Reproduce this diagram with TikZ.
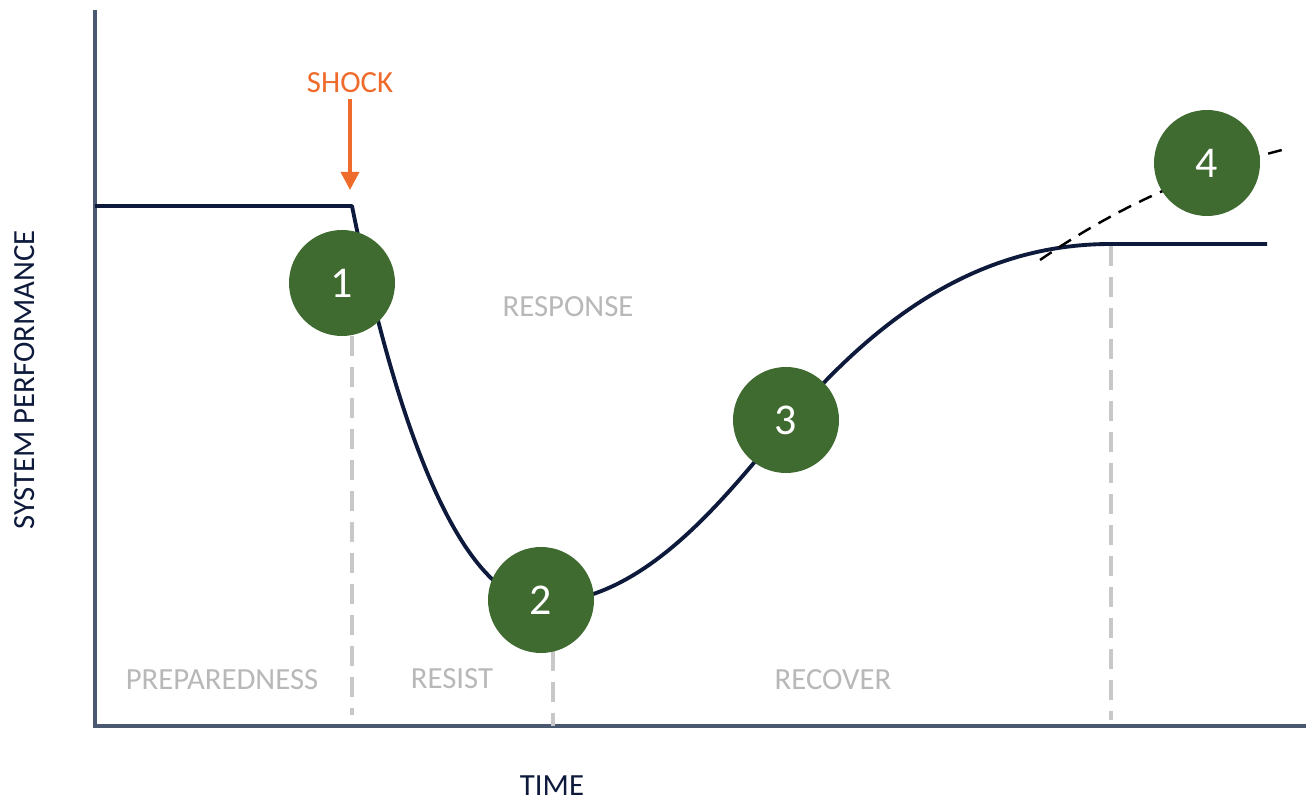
\documentclass[tikz,border=0pt]{standalone}
\usepackage{fontspec}
\usepackage{tikz}
\usetikzlibrary{arrows.meta}
\setmainfont{Carlito}
\definecolor{shockorange}{HTML}{EE6B2B}
\definecolor{phasegray}{HTML}{B8B8B8}
\definecolor{guidegray}{HTML}{C8C8C8}
\definecolor{curvenavy}{HTML}{0E1A3B}
\definecolor{axisslate}{HTML}{4A5870}
\definecolor{stagegreen}{HTML}{3F6A30}

\begin{document}
\begin{tikzpicture}[x=1cm,y=1cm,
  stage/.style={circle, fill=stagegreen, text=white, minimum size=2.12cm, inner sep=0pt, font=\fontsize{25}{28}\selectfont},
  phase/.style={text=phasegray, font=\fontsize{17.5}{20}\selectfont},
  guide/.style={guidegray, line width=2pt, dash pattern=on 0.4cm off 0.22cm}]
  \useasboundingbox (0,0) rectangle (26.12,16.02);

  % Axes
  \draw[axisslate, line width=2.2pt] (1.90,15.82) -- (1.90,1.50) -- (26.12,1.50);
  \node[text=curvenavy, font=\fontsize{17.5}{20}\selectfont] (tlabel) at (11.04,0.30) {TIME};
  \node[text=curvenavy, font=\fontsize{17.5}{20}\selectfont, rotate=90] (plabel) at (0.50,8.42) {SYSTEM PERFORMANCE};

  % Phase boundaries
  \draw[guide] (7.04,9.30) -- (7.04,1.72);
  \draw[guide] (11.06,3.00) -- (11.06,1.50);
  \draw[guide] (22.22,11.10) -- (22.22,1.62);

  % Performance curve
  \draw[curvenavy, line width=2.2pt, line join=round] (1.90,11.90) -- (7.04,11.90)
    .. controls (7.90,7.62) and (9.20,3.92) .. (10.90,3.96)
    .. controls (13.00,4.02) and (14.60,6.22) .. (15.80,7.62)
    .. controls (17.60,9.72) and (19.60,11.14) .. (22.22,11.14)
    -- (25.34,11.14);
  \draw[black, line width=1.4pt, dash pattern=on 0.28cm off 0.18cm] (20.80,10.82)
    .. controls (22.40,11.92) and (24.00,12.62) .. (25.80,13.06);

  % Shock
  \node[text=shockorange, font=\fontsize{17.5}{20}\selectfont] (shock) at (7.00,14.36) {SHOCK};
  \coordinate (hit) at (7.00,12.22);
  \draw[-{Triangle[width=0.36cm,length=0.36cm]}, shockorange, line width=2pt] (shock) -- (hit);

  % Phases
  \node[phase] (resp) at (11.36,9.88) {RESPONSE};
  \node[phase] (prep) at (4.44,2.42) {PREPAREDNESS};
  \node[phase] (resist) at (9.04,2.44) {RESIST};
  \node[phase] (recov) at (16.66,2.42) {RECOVER};

  % Stages
  \node[stage] (s1) at (6.84,10.36) {1};
  \node[stage] (s2) at (10.82,4.02) {2};
  \node[stage] (s3) at (15.72,7.62) {3};
  \node[stage] (s4) at (24.14,12.76) {4};
\end{tikzpicture}
\end{document}
